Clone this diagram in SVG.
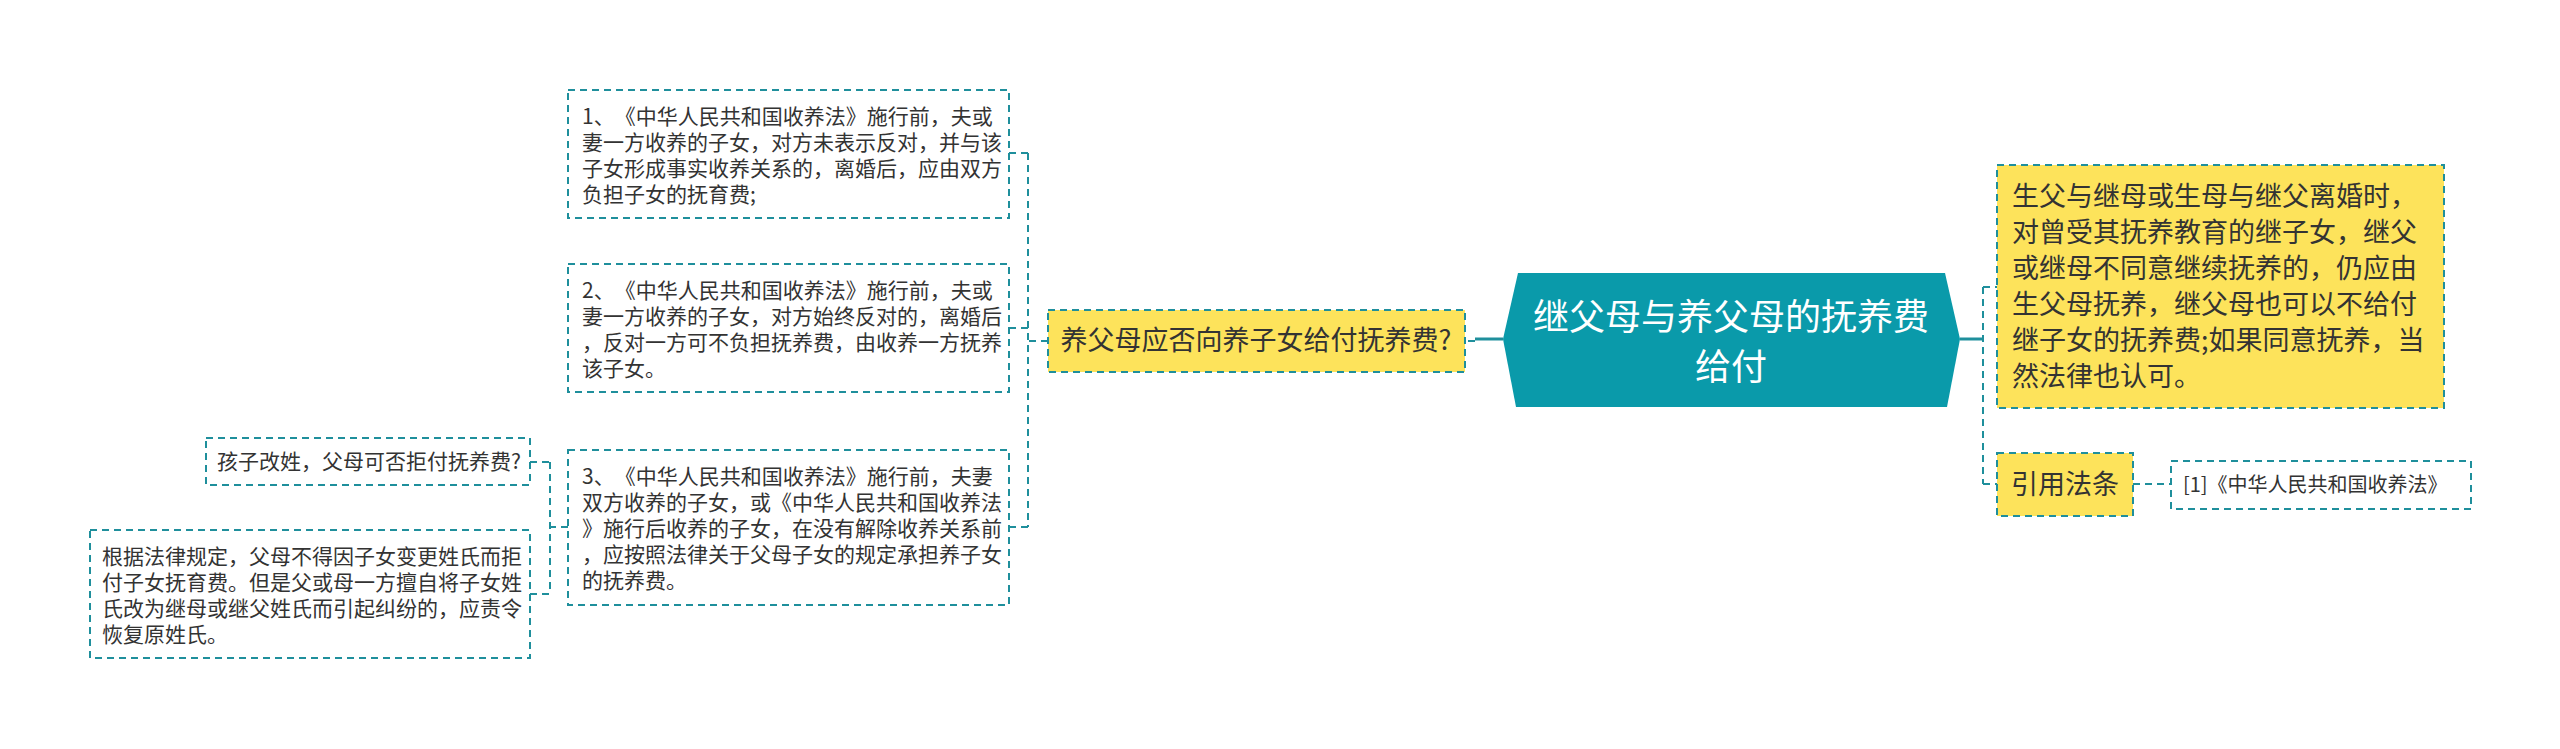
<svg xmlns="http://www.w3.org/2000/svg" width="2560" height="749" viewBox="0 0 2560 749">
<style>
.box{fill:#ffffff;stroke:#1f8f9c;stroke-width:2;stroke-dasharray:7 5;}
.ybox{fill:#fde35b;stroke:#1f8f9c;stroke-width:2;stroke-dasharray:7 5;}
.t{font-family:"Noto Sans CJK SC","Noto Sans",sans-serif;fill:#333333;text-spacing-trim:space-all;}
.s21{font-size:21px;}
.s27{font-size:27px;}
.dash{fill:none;stroke:#1f8f9c;stroke-width:2;stroke-dasharray:7 5;}
.solid{fill:none;stroke:#1f8f9c;stroke-width:3;}
</style>
<rect width="2560" height="749" fill="#ffffff"/>
<g id="connectors">
<path class="solid" d="M1503 339 H1475"/>
<path class="dash" d="M1475 341 H1465"/>
<path class="dash" d="M1048 341 H1028 M1028 153 V527 M1009 153 H1028 M1009 328 H1028 M1009 527 H1028"/>
<path class="dash" d="M568 527 H550 M550 462 V594 M530 462 H550 M530 594 H550"/>
<path class="solid" d="M1960 339 H1983"/>
<path class="dash" d="M1983 287 V484 M1983 287 H1997 M1983 484 H1997"/>
<path class="dash" d="M2133 484 H2171"/>
</g>
<g id="central">
<path d="M1518 273 H1945 L1960 339 L1947 407 H1516 L1503 339 Z" fill="#0a9aaa"/>
<text class="t" x="1731" y="330" font-size="36" text-anchor="middle" style="fill:#ffffff">继父母与养父母的抚养费</text>
<text class="t" x="1731" y="380" font-size="36" text-anchor="middle" style="fill:#ffffff">给付</text>
</g>
<g id="q-adopt">
<rect class="ybox" x="1048" y="310" width="417" height="62"/>
<text class="t" x="1256" y="350" font-size="27" text-anchor="middle">养父母应否向养子女给付抚养费?</text>
</g>
<g id="box1">
<rect class="box" x="568" y="90" width="441" height="128"/>
<text class="t s21" x="582" y="124">1、《中华人民共和国收养法》施行前，夫或</text>
<text class="t s21" x="582" y="150">妻一方收养的子女，对方未表示反对，并与该</text>
<text class="t s21" x="582" y="176">子女形成事实收养关系的，离婚后，应由双方</text>
<text class="t s21" x="582" y="202">负担子女的抚育费;</text>
</g>
<g id="box2">
<rect class="box" x="568" y="264" width="441" height="128"/>
<text class="t s21" x="582" y="298">2、《中华人民共和国收养法》施行前，夫或</text>
<text class="t s21" x="582" y="324">妻一方收养的子女，对方始终反对的，离婚后</text>
<text class="t s21" x="582" y="350">，反对一方可不负担抚养费，由收养一方抚养</text>
<text class="t s21" x="582" y="376">该子女。</text>
</g>
<g id="box3">
<rect class="box" x="568" y="450" width="441" height="155"/>
<text class="t s21" x="582" y="484">3、《中华人民共和国收养法》施行前，夫妻</text>
<text class="t s21" x="582" y="510">双方收养的子女，或《中华人民共和国收养法</text>
<text class="t s21" x="582" y="536">》施行后收养的子女，在没有解除收养关系前</text>
<text class="t s21" x="582" y="562">，应按照法律关于父母子女的规定承担养子女</text>
<text class="t s21" x="582" y="588">的抚养费。</text>
</g>
<g id="q-name">
<rect class="box" x="206" y="438" width="324" height="47"/>
<text class="t s21" x="217" y="469">孩子改姓，父母可否拒付抚养费?</text>
</g>
<g id="a-name">
<rect class="box" x="90" y="530" width="440" height="128"/>
<text class="t s21" x="102" y="564">根据法律规定，父母不得因子女变更姓氏而拒</text>
<text class="t s21" x="102" y="590">付子女抚育费。但是父或母一方擅自将子女姓</text>
<text class="t s21" x="102" y="616">氏改为继母或继父姓氏而引起纠纷的，应责令</text>
<text class="t s21" x="102" y="642">恢复原姓氏。</text>
</g>
<g id="step">
<rect class="ybox" x="1997" y="165" width="447" height="243"/>
<text class="t s27" x="2012" y="206">生父与继母或生母与继父离婚时，</text>
<text class="t s27" x="2012" y="242">对曾受其抚养教育的继子女，继父</text>
<text class="t s27" x="2012" y="278">或继母不同意继续抚养的，仍应由</text>
<text class="t s27" x="2012" y="314">生父母抚养，继父母也可以不给付</text>
<text class="t s27" x="2012" y="350">继子女的抚养费;如果同意抚养，当</text>
<text class="t s27" x="2012" y="386">然法律也认可。</text>
</g>
<g id="law">
<rect class="ybox" x="1997" y="453" width="136" height="63"/>
<text class="t s27" x="2065" y="494" text-anchor="middle">引用法条</text>
</g>
<g id="law-ref">
<rect class="box" x="2171" y="461" width="300" height="48"/>
<text class="t" x="2183" y="492" font-size="20">[1]《中华人民共和国收养法》</text>
</g>
</svg>
